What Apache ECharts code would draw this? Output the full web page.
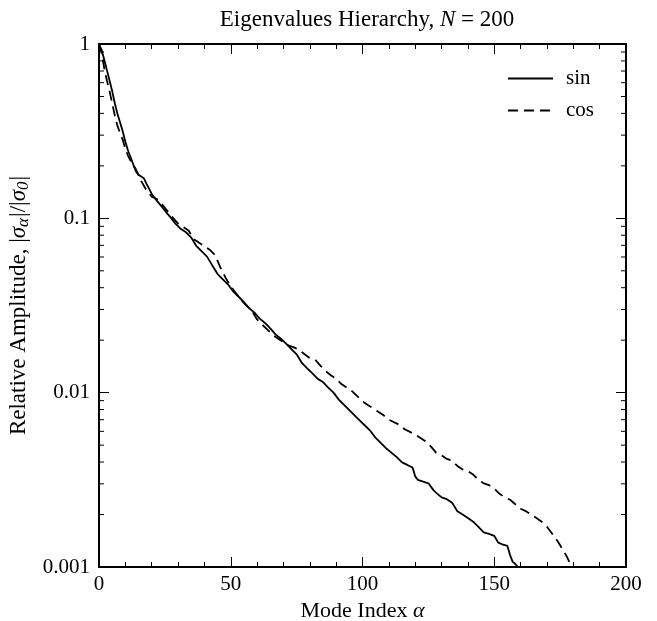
<!DOCTYPE html>
<html>
<head>
<meta charset="utf-8">
<script src="https://cdn.jsdelivr.net/npm/echarts@6/dist/echarts.min.js"></script>
<style>
  html, body { margin: 0; padding: 0; background: #fff; }
  #chart { width: 657px; height: 621px; }
</style>
</head>
<body>
<div id="chart"></div>
<script>
// mode index and relative amplitude
const sinAlpha = [0, 1, 2, 3, 4, 5, 6, 7, 8, 9, 10, 11, 12, 13, 14, 15, 16, 17, 18, 19, 20,
  22, 24, 26, 27,
  29, 31, 33, 35, 37, 39, 41, 43, 45, 47, 49, 51, 53, 55, 57, 59, 61, 63, 65, 67,
  69, 71, 73, 75, 77, 79, 81, 83, 85, 87, 89, 91, 93, 95, 97, 99, 101, 103, 105, 107,
  109, 111, 113, 115, 117, 119,
  120, 121, 123, 125, 127, 128, 130, 132, 134, 136, 138, 140, 142, 144, 146, 148, 150,
  151.5, 153, 155, 156, 157, 158, 159];
const sinAmp = [1, 0.925, 0.813, 0.708, 0.617, 0.537, 0.457, 0.398, 0.355, 0.316, 0.275, 0.245, 0.224, 0.204, 0.186, 0.178, 0.174, 0.170, 0.158, 0.148, 0.138,
  0.126, 0.116, 0.106, 0.102,
  0.0933, 0.0871, 0.0832, 0.0776, 0.0692, 0.0646, 0.0603, 0.0537, 0.0479, 0.0447, 0.0417, 0.0380, 0.0355, 0.0331, 0.0305, 0.0288, 0.0266, 0.0251, 0.0234, 0.0216,
  0.0204, 0.0191, 0.0178, 0.0166, 0.0148, 0.0138, 0.0129, 0.0120, 0.0115, 0.0107, 0.0100, 0.00912, 0.00851, 0.00794, 0.00741, 0.00692, 0.00646, 0.00603, 0.00550, 0.00513,
  0.00479, 0.00452, 0.00427, 0.00398, 0.00385, 0.00372,
  0.00331, 0.00316, 0.00309, 0.00302, 0.00275, 0.00266, 0.00251, 0.00245, 0.00234, 0.00209, 0.00200, 0.00191, 0.00182, 0.00170, 0.00158, 0.00155, 0.00151,
  0.00138, 0.00135, 0.00132, 0.00117, 0.00107, 0.00104, 0.001];

const cosAlpha = [0, 1, 2, 3, 4, 5, 6, 7, 8, 9, 10, 11, 12,
  14, 16, 18, 20, 22, 24, 26, 28, 30, 32, 34, 36, 38, 40, 42, 44, 46, 48, 50, 52, 54, 56, 58, 60,
  62, 64, 66, 68, 70, 72, 74, 76, 78, 80, 82, 84, 86, 88, 90, 92, 94, 96, 98, 100,
  102, 104, 106, 108, 110, 112, 114, 116, 118, 120, 122, 124, 126, 128, 130, 132, 134, 136, 138, 140,
  142, 144, 146, 148, 150, 152, 154, 156, 158, 160, 162, 164, 166, 168, 170, 172, 174, 176,
  177.5, 178.5, 179.5, 180];
const cosAmp = [1, 0.891, 0.724, 0.617, 0.537, 0.457, 0.389, 0.339, 0.309, 0.282, 0.251, 0.229, 0.214,
  0.191, 0.164, 0.145, 0.133, 0.129, 0.120, 0.110, 0.101, 0.0933, 0.0891, 0.0851, 0.0759, 0.0724, 0.0692, 0.0661, 0.0617, 0.0525, 0.0457, 0.0407, 0.0372, 0.0339, 0.0316, 0.0295, 0.0263,
  0.0245, 0.0229, 0.0214, 0.0204, 0.0195, 0.0186, 0.0182, 0.0176, 0.0166, 0.0158, 0.0155, 0.0143, 0.0133, 0.0126, 0.0120, 0.0112, 0.0107, 0.0102, 0.00955, 0.00891,
  0.00851, 0.00813, 0.00776, 0.00741, 0.00700, 0.00676, 0.00653, 0.00617, 0.00596, 0.00575, 0.00550, 0.00525, 0.00490, 0.00452, 0.00437, 0.00417, 0.00407, 0.00380, 0.00363, 0.00355,
  0.00339, 0.00316, 0.00302, 0.00295, 0.00282, 0.00263, 0.00251, 0.00243, 0.00229, 0.00216, 0.00209, 0.00200, 0.00191, 0.00182, 0.00170, 0.00155, 0.00141, 0.00126,
  0.00115, 0.00107, 0.00104, 0.001];

const seriesNames = ["sin", "cos"];
const xTicks = [0, 50, 100, 150, 200];
const yTicks = [0.001, 0.01, 0.1, 1];
// log minor ticks 2..9 in each decade
const yMinorTicks = [
  0.002, 0.003, 0.004, 0.005, 0.006, 0.007, 0.008, 0.009,
  0.02, 0.03, 0.04, 0.05, 0.06, 0.07, 0.08, 0.09,
  0.2, 0.3, 0.4, 0.5, 0.6, 0.7, 0.8, 0.9
];

const serif = "'Liberation Serif', 'DejaVu Serif', serif";
const zip = (xs, ys) => xs.map((x, i) => [x, ys[i]]);

const chart = echarts.init(document.getElementById("chart"));

const frameX = {
  type: "value",
  min: xTicks[0],
  max: xTicks[xTicks.length - 1],
  interval: 50,
  axisLine: { show: true, onZero: false, lineStyle: { color: "#000", width: 2 } },
  axisTick: { show: true, inside: true, length: 10, lineStyle: { color: "#000", width: 1 } },
  minorTick: { show: true, splitNumber: 5, length: 5, lineStyle: { color: "#000", width: 1 } },
  splitLine: { show: false },
  minorSplitLine: { show: false }
};
const frameY = {
  type: "log",
  logBase: 10,
  min: yTicks[0],
  max: yTicks[yTicks.length - 1],
  axisLine: { show: true, onZero: false, lineStyle: { color: "#000", width: 2 } },
  axisTick: { show: true, inside: true, length: 10, lineStyle: { color: "#000", width: 1 } },
  minorTick: { show: false },
  splitLine: { show: false },
  minorSplitLine: { show: false }
};

const option = {
  animation: false,
  backgroundColor: "#fff",
  title: {
    text: "Eigenvalues Hierarchy, {i|N} = 200",
    left: 362,
    textAlign: "center",
    top: 3,
    textStyle: {
      fontFamily: serif,
      fontSize: 23,
      fontWeight: "normal",
      color: "#000",
      rich: {
        i: { fontFamily: serif, fontSize: 23, fontStyle: "italic", color: "#000" }
      }
    }
  },
  legend: {
    orient: "vertical",
    right: 58,
    top: 63,
    itemWidth: 45,
    itemHeight: 20,
    itemGap: 11,
    itemStyle: { opacity: 0 },
    textStyle: { fontFamily: serif, fontSize: 21, color: "#000", padding: [0, 0, 0, 8] },
    data: seriesNames
  },
  grid: { left: 99, right: 31, top: 44, bottom: 54, outerBoundsMode: "none" },
  xAxis: [
    Object.assign({}, frameX, {
      position: "bottom",
      name: "Mode Index {i|α}",
      nameLocation: "middle",
      nameGap: 25,
      nameTextStyle: {
        fontFamily: serif, fontSize: 22, color: "#000", verticalAlign: "top",
        rich: { i: { fontFamily: serif, fontSize: 22, fontStyle: "italic", color: "#000" } }
      },
      axisLabel: { show: true, margin: 7, fontFamily: serif, fontSize: 21, color: "#000" }
    }),
    Object.assign({}, frameX, { position: "top", axisLabel: { show: false } })
  ],
  yAxis: [
    Object.assign({}, frameY, {
      position: "left",
      name: "Relative Amplitude, |{i|σ}{s|α}|/|{i|σ}{s|0}|",
      nameLocation: "middle",
      nameGap: 66,
      nameTextStyle: {
        fontFamily: serif, fontSize: 23, color: "#000",
        rich: {
          i: { fontFamily: serif, fontSize: 23, fontStyle: "italic", color: "#000" },
          s: { fontFamily: serif, fontSize: 17, fontStyle: "italic", color: "#000", verticalAlign: "bottom", padding: [9, 1, 0, 0] }
        }
      },
      axisLabel: {
        show: true, margin: 9, fontFamily: serif, fontSize: 21, color: "#000",
        formatter: v => String(+Number(v).toPrecision(1))
      }
    }),
    Object.assign({}, frameY, { position: "right", axisLabel: { show: false } })
  ],
  series: [
    {
      name: seriesNames[0],
      type: "line",
      xAxisIndex: 0,
      yAxisIndex: 0,
      showSymbol: false,
      symbol: "none",
      smooth: false,
      color: "#000",
      lineStyle: { color: "#000", width: 1.8, type: "solid" },
      data: zip(sinAlpha, sinAmp)
    },
    {
      name: seriesNames[1],
      type: "line",
      xAxisIndex: 0,
      yAxisIndex: 0,
      showSymbol: false,
      symbol: "none",
      smooth: false,
      color: "#000",
      lineStyle: { color: "#000", width: 1.8, type: [10, 6] },
      data: zip(cosAlpha, cosAmp)
    },
    {
      // minor ticks of the log axis, on both the left and right frame edges
      name: "yMinor",
      type: "custom",
      silent: true,
      xAxisIndex: 0,
      yAxisIndex: 0,
      clip: false,
      data: yMinorTicks.map(v => [xTicks[0], v]),
      renderItem: function(params, api) {
        const left = api.coord([xTicks[0], api.value(1)]);
        const right = api.coord([xTicks[xTicks.length - 1], api.value(1)]);
        const style = { stroke: "#000", lineWidth: 1 };
        return {
          type: "group",
          children: [
            { type: "line", shape: { x1: left[0], y1: left[1], x2: left[0] + 5, y2: left[1] }, style: style },
            { type: "line", shape: { x1: right[0], y1: right[1], x2: right[0] - 5, y2: right[1] }, style: style }
          ]
        };
      }
    }
  ]
};

chart.setOption(option);
</script>
</body>
</html>
